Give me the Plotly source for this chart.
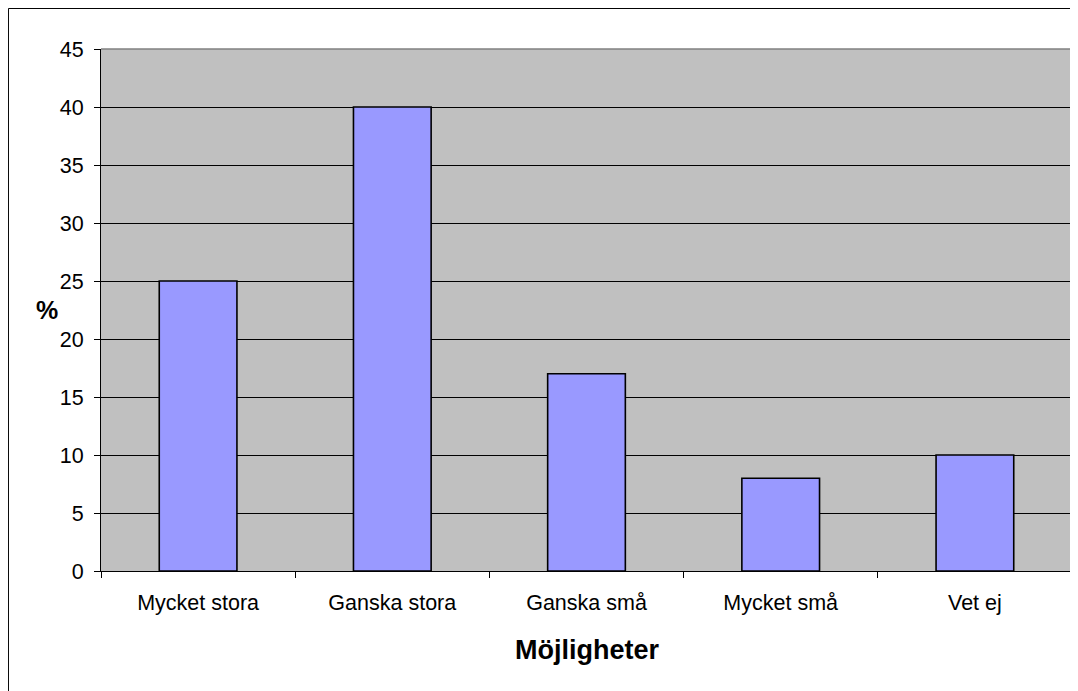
import plotly.graph_objects as go

categories = ["Mycket stora", "Ganska stora", "Ganska små", "Mycket små", "Vet ej"]
values = [25, 40, 17, 8, 10]
y_ticks = [0, 5, 10, 15, 20, 25, 30, 35, 40, 45]

FONT = "Liberation Sans, Arial, sans-serif"

fig = go.Figure(
    go.Bar(
        x=categories,
        y=values,
        marker=dict(color="#9999FF", line=dict(color="black", width=1.6)),
        width=0.4,
    )
)

fig.update_layout(
    width=1070,
    height=683,
    margin=dict(l=93, r=6, t=41, b=120),
    paper_bgcolor="white",
    plot_bgcolor="#C0C0C0",
    showlegend=False,
    font=dict(family=FONT, color="black", size=21),
    xaxis=dict(
        type="category",
        tickson="boundaries",
        ticks="outside",
        ticklen=6,
        tickcolor="black",
        showline=True,
        linecolor="black",
        linewidth=1,
        showgrid=False,
        tickfont=dict(size=21.5, family=FONT, color="black"),
        ticklabelstandoff=12,
    ),
    yaxis=dict(
        range=[0, 45],
        tickvals=y_ticks,
        ticks="outside",
        ticklen=6,
        tickcolor="black",
        showline=True,
        linecolor="black",
        linewidth=1,
        showgrid=True,
        gridcolor="black",
        gridwidth=1,
        zeroline=False,
        tickfont=dict(size=21.5, family=FONT, color="black"),
        ticklabelstandoff=6,
    ),
    shapes=[
        dict(type="line", xref="paper", yref="paper", x0=0, x1=1, y0=1, y1=1,
             line=dict(color="#808080", width=1.5)),
        dict(type="line", xref="paper", yref="paper", x0=1, x1=1, y0=0, y1=1,
             line=dict(color="#808080", width=1.5)),
        dict(type="rect", xref="paper", yref="paper", x0=-0.0953, x1=1.2,
             y0=-0.5, y1=1.0776, line=dict(color="black", width=1)),
    ],
    annotations=[
        dict(text="<b>%</b>", xref="paper", yref="paper", x=-0.0556, y=0.5,
             xanchor="center", yanchor="middle", showarrow=False,
             font=dict(size=25, family=FONT, color="black")),
        dict(text="<b>Möjligheter</b>", xref="paper", yref="paper", x=0.5, y=-0.152,
             xanchor="center", yanchor="middle", showarrow=False,
             font=dict(size=27, family=FONT, color="black")),
    ],
)

fig.write_html("out.html")
